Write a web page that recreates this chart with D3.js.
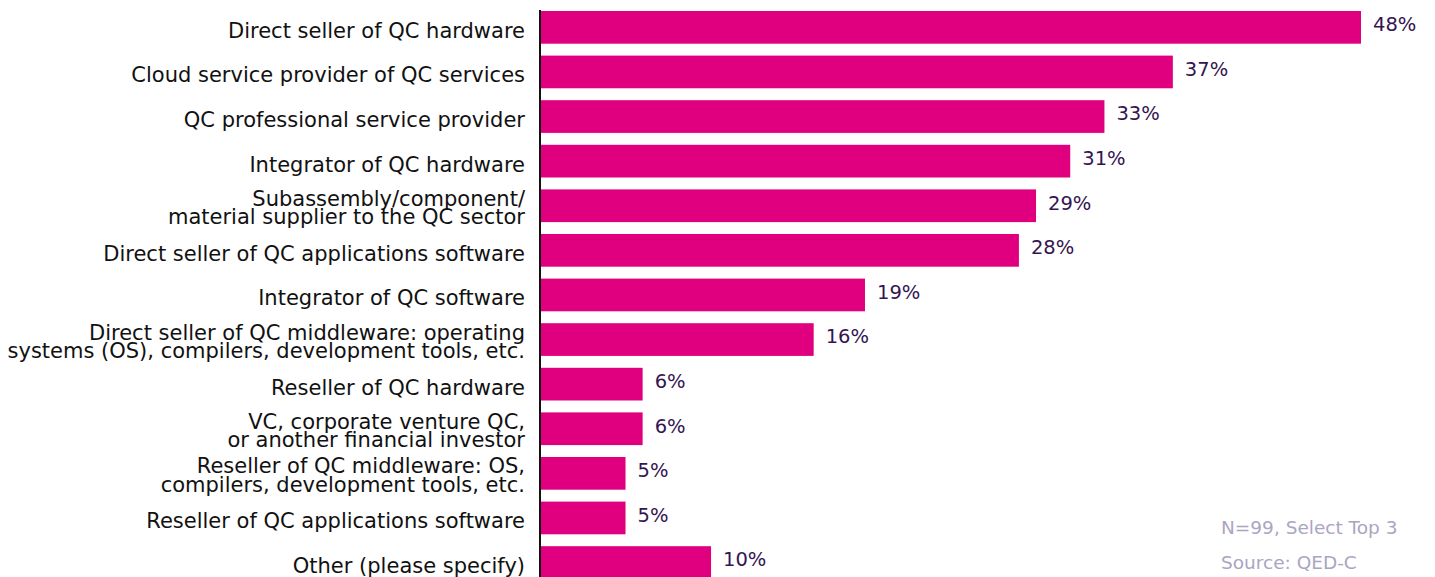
<!DOCTYPE html>
<html>
<head>
<meta charset="utf-8">
<script src="https://cdn.jsdelivr.net/npm/d3@7"></script>
<style>
  html, body { margin: 0; padding: 0; background: #fff; }
  svg { display: block; }
</style>
</head>
<body>
<svg id="chart" width="1435" height="577"></svg>
<script>
// Survey answers, one bar per category (percent of respondents)
const categories = [
  ["Direct seller of QC hardware"],
  ["Cloud service provider of QC services"],
  ["QC professional service provider"],
  ["Integrator of QC hardware"],
  ["Subassembly/component/", "material supplier to the QC sector"],
  ["Direct seller of QC applications software"],
  ["Integrator of QC software"],
  ["Direct seller of QC middleware: operating", "systems (OS), compilers, development tools, etc."],
  ["Reseller of QC hardware"],
  ["VC, corporate venture QC,", "or another financial investor"],
  ["Reseller of QC middleware: OS,", "compilers, development tools, etc."],
  ["Reseller of QC applications software"],
  ["Other (please specify)"]
];
const values = [48, 37, 33, 31, 29, 28, 19, 16, 6, 6, 5, 5, 10];
const notes = ["N=99, Select Top 3", "Source: QED-C"];

const svg = d3.select("#chart");
const fontFamily = "'DejaVu Sans', sans-serif";

const axisX = 540;
const x = d3.scaleLinear().domain([0, 48]).range([axisX, 1361]);

// band layout: 44.6px per row, 32.7px tall bars, first bar top at y=11
const step = 44.6;
const barH = 32.7;
const pad = (step - barH) / step;
const y0 = 11 - (step - barH) / 2;
const y = d3.scaleBand()
  .domain(d3.range(categories.length))
  .range([y0, y0 + step * categories.length])
  .paddingInner(pad)
  .paddingOuter(pad / 2);

const rows = svg.append("g");

rows.selectAll("rect")
  .data(values)
  .join("rect")
  .attr("x", axisX)
  .attr("y", (d, i) => y(i))
  .attr("width", d => x(d) - axisX)
  .attr("height", y.bandwidth())
  .attr("fill", "#e0007f");

// value labels
rows.selectAll("text.val")
  .data(values)
  .join("text")
  .attr("class", "val")
  .attr("x", d => x(d) + 12)
  .attr("y", (d, i) => y(i) + y.bandwidth() / 2 - 3)
  .attr("dy", "0.35em")
  .attr("font-family", fontFamily)
  .attr("font-size", 19.5)
  .attr("fill", "#341552")
  .text(d => d + "%");

// category labels (right-aligned, possibly two lines, tight leading)
const lineH = 18.5;
const labels = rows.selectAll("text.cat")
  .data(categories)
  .join("text")
  .attr("class", "cat")
  .attr("text-anchor", "end")
  .attr("font-family", fontFamily)
  .attr("font-size", 21)
  .attr("fill", "#111");

labels.each(function(lines, i) {
  const cy = y(i) + y.bandwidth() / 2 + (lines.length > 1 ? 2 : 3);
  const t = d3.select(this);
  lines.forEach((ln, k) => {
    t.append("tspan")
      .attr("x", 525)
      .attr("y", cy + (k - (lines.length - 1) / 2) * lineH)
      .attr("dy", "0.35em")
      .text(ln);
  });
});

// vertical axis line
svg.append("line")
  .attr("x1", axisX).attr("x2", axisX)
  .attr("y1", 10).attr("y2", 577)
  .attr("stroke", "#111")
  .attr("stroke-width", 2);

// footnotes
svg.selectAll("text.note")
  .data(notes)
  .join("text")
  .attr("class", "note")
  .attr("x", 1221)
  .attr("y", (d, i) => 528 + i * 35)
  .attr("dy", "0.35em")
  .attr("font-family", fontFamily)
  .attr("font-size", 18.5)
  .attr("fill", "#aaa5c2")
  .text(d => d);
</script>
</body>
</html>
